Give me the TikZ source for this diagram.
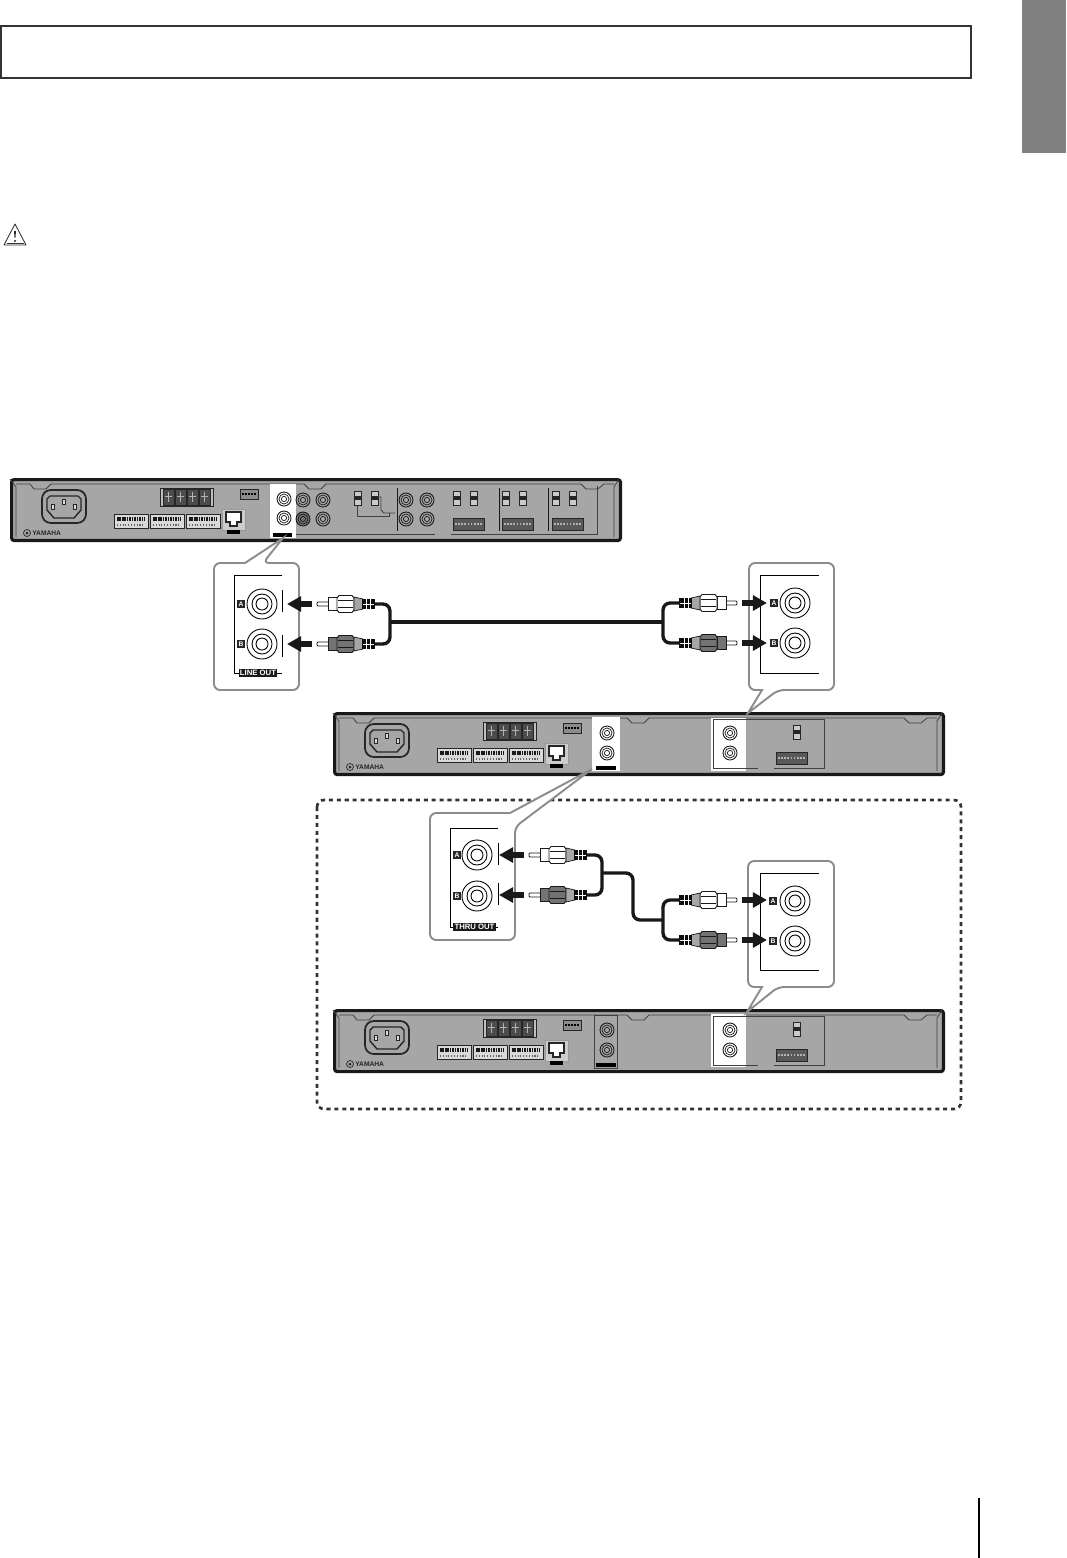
\documentclass[tikz,border=0pt]{standalone}
\usepackage{fontspec}
\setmainfont{Liberation Sans}
\usetikzlibrary{arrows.meta, positioning, calc}
\definecolor{panelgray}{HTML}{A6A6A6}
\definecolor{tabgray}{HTML}{808080}
\definecolor{calloutgray}{HTML}{8C8C8C}
\tikzset{
    ampbody/.style={
        rectangle, draw=black!90, fill=panelgray, line width=1.8pt, rounded corners=1.5pt,
        minimum width=12.18cm, minimum height=1.22cm, inner sep=0pt, anchor=north west
    },
    ampline/.style={draw=black!75, line width=0.45pt},
    partbox/.style={draw=black!85, line width=0.45pt},
    callout/.style={draw=calloutgray, fill=white, line width=1.1pt},
    frameline/.style={draw=black, line width=0.5pt},
    dashedbox/.style={
        draw=black!80, line width=1.5pt, rounded corners=4pt, dash pattern=on 2.3pt off 2.2pt
    },
    jackletter/.style={
        rectangle, fill=black!85, text=white, inner sep=0pt, minimum size=4.1pt,
        font=\fontsize{3.8}{4}\selectfont\bfseries
    },
    outlabel/.style={
        rectangle, fill=black!90, text=white, inner sep=0.7pt,
        font=\fontsize{4.4}{5}\selectfont\bfseries
    },
    bigarrow/.style={
        -{Triangle[length=8pt,width=8.4pt]}, line width=3.8pt, draw=black!90
    },
    cable/.style={draw=black!90, line width=1.9pt, rounded corners=4pt},
    whiteplug/.style={fill=white, draw=black!90, line width=0.5pt},
    darkplug/.style={fill=black!55, draw=black!90, line width=0.5pt}
}
\newcommand{\bigjack}[3]{%
    \node[circle, draw=black, line width=0.5pt, fill=white, minimum size=0.6cm, inner sep=0pt] (#1) at (#2,#3) {};
    \draw[frameline] (#1) circle (10);
    \draw[frameline] (#1) circle (6);
}
\newcommand{\smalljack}[3]{%
    \draw[black!90, line width=0.5pt, fill=#3] (#1,#2) circle (7);
    \draw[black!90, line width=0.4pt] (#1,#2) circle (5);
    \draw[black!90, line width=0.4pt] (#1,#2) circle (2.6);
}
\newcommand{\ampswitch}[2]{%
    \draw[partbox, line width=0.5pt, fill=white!40!panelgray] (#1,#2) rectangle ++(7,14);
    \fill[black!85] (#1,#2+5) rectangle ++(7,3.5);
}
\newcommand{\phoenix}[2]{%
    \draw[partbox, fill=black!65] (#1,#2) rectangle ++(31,12);
    \draw[white!70!black, line width=1.2pt, dash pattern=on 0.9pt off 0.9pt] (#1+2,#2+6) -- ++(27,0);
}
\newcommand{\ampbase}[3]{%
    \node[ampbody] (#1) at (#2,#3) {};
    \begin{scope}[shift={(#2,#3)}]
        \draw[ampline] (0,1) -- (6,9) -- (6,59);
        \draw[ampline] (6,6) -- (20,6) -- (24,11) -- (36,11) -- (41,6) -- (294,6) -- (299,11) -- (311,11) -- (316,6)
            -- (571,6) -- (576,11) -- (588,11) -- (594,6) -- (604,6);
        \draw[ampline] (609,1) -- (604,9) -- (604,59);
        \draw[partbox, line width=1pt, rounded corners=5pt] (32,12) rectangle (76,45);
        \draw[partbox, line width=0.8pt] (40,18) -- (68,18) -- (71,21) -- (71,32) -- (64,40) -- (44,40) -- (37,32) -- (37,21) -- cycle;
        \foreach \pinx/\piny in {43/29,54/24,65/29} {
            \draw[partbox, fill=black!15] (\pinx-1.5,\piny-2.5) rectangle ++(3,5);
        }
        \draw[partbox, fill=black!25] (150,10) rectangle (203,28);
        \foreach \cellx in {153,165,177,189} {
            \draw[partbox, fill=black!70] (\cellx,11) rectangle ++(11,16);
            \draw[black!30, line width=0.4pt] (\cellx+2,18) -- ++(7,0) (\cellx+5.5,14) -- ++(0,10);
        }
        \draw[partbox, fill=black!45] (230,11) rectangle (248,21);
        \draw[black, line width=1.2pt, dash pattern=on 1pt off 0.7pt] (232,16) -- (246,16);
        \foreach \conx in {104,140,176} {
            \draw[partbox, fill=black!15] (\conx,36) rectangle ++(34,14);
            \draw[black!90, line width=2.4pt, dash pattern=on 0.9pt off 0.5pt] (\conx+3,41) -- ++(28,0);
            \draw[black!60, line width=0.8pt, dash pattern=on 0.6pt off 1pt] (\conx+3,47) -- ++(28,0);
        }
        \draw[partbox, draw=black!40, fill=black!20] (212,31) rectangle (235,52);
        \draw[partbox, line width=0.7pt, fill=white] (216,34) -- (231,34) -- (231,44) -- (227,44) -- (227,48) -- (220,48) -- (220,44) -- (216,44) -- cycle;
        \fill[black] (217,52) rectangle (230,56);
        \draw[black!85, line width=0.4pt] (17,55) circle (3.5);
        \fill[black!85] (17,55) circle (1.5);
        \node[anchor=west, inner sep=0pt, text=black!85, font=\fontsize{3.8}{4}\selectfont\bfseries] (#1logo) at (22,55.5) {YAMAHA};
    \end{scope}
}
\newcommand{\rcaplug}[5]{%
    \begin{scope}[shift={(#2,#3)}, xscale=#4]
        \coordinate (#1tip) at (-30,0);
        \coordinate (#1tail) at (-5,0);
        \coordinate (#1end) at (58,0);
        \draw[whiteplug, rounded corners=0.6pt] (0,-2) rectangle (12,2);
        \draw[#5] (11,-6.5) rectangle (20,6.5);
        \draw[#5] (20,-6) -- (22,-8.5) -- (35,-8.5) -- (37,-6) -- (37,6) -- (35,8.5) -- (22,8.5) -- (20,6) -- cycle;
        \draw[black!90, line width=0.3pt] (21,-3.5) -- (36,-3.5) (21,3.5) -- (36,3.5);
        \draw[draw=black!90, fill=black!35, line width=0.4pt] (37,-7) -- (46,-5) -- (46,5) -- (37,7) -- cycle;
        \fill[black!95] (45,-4.8) rectangle (58,4.8);
        \draw[white, line width=0.4pt] (49,-4.8) -- (49,4.8) (53,-4.8) -- (53,4.8) (46,0) -- (57,0);
    \end{scope}
}
\begin{document}
\begin{tikzpicture}[x=0.02cm, y=-0.02cm]

    \useasboundingbox (0,0) rectangle (1066,1558);

    \fill[tabgray] (1022,0) rectangle (1066,153);
    \draw[black!80, line width=1.2pt] (1,26) rectangle (971,78);
    \draw[black, line width=1.6pt] (979,1498) -- (979,1558);

    \draw[black!80, line width=0.5pt, line join=round] (15,224) -- (26,245) -- (4,245) -- cycle;
    \draw[black!80, line width=0.3pt] (6.5,243) -- (23.5,243);
    \fill[black!85] (14,231) -- (16,231) -- (15.4,238) -- (14.6,238) -- cycle;
    \fill[black!85] (15,241) circle (1.1);

    \draw[dashedbox] (317,800) rectangle (961,1109);

    \ampbase{ampone}{10}{478}
    \fill[white] (270,484) rectangle (296,538);
    \fill[black] (273,533) rectangle (292,537);
    \smalljack{284}{499}{white}
    \smalljack{284}{518}{white}
    \smalljack{303}{500}{panelgray}
    \smalljack{323}{500}{panelgray}
    \smalljack{303}{519}{black!55}
    \smalljack{323}{519}{panelgray}
    \smalljack{406}{500}{panelgray}
    \smalljack{427}{500}{panelgray}
    \smalljack{406}{519}{panelgray}
    \smalljack{427}{519}{panelgray}
    \draw[ampline] (296,534) -- (435,534) (451,534) -- (597,534) -- (597,486);
    \draw[black!90, line width=0.5pt] (397,488) -- (397,531) (499,488) -- (499,531) (548,488) -- (548,531);
    \foreach \swx in {354,371,453,470,502,519,552,569} {
        \ampswitch{\swx}{491}
    }
    \draw[ampline] (357,505) -- (357,516) -- (389,516) -- (389,513);
    \draw[ampline] (377,497) -- (381,497) -- (381,510) -- (384,513) -- (395,513);
    \foreach \conx in {453,502,552} {
        \phoenix{\conx}{518}
    }

    \ampbase{amptwo}{333}{712}
    \fill[white] (592,717) rectangle (620,771);
    \fill[black] (596,766) rectangle (616,770);
    \smalljack{607}{733}{white}
    \smalljack{607}{753}{white}
    \fill[white] (711,718) rectangle (746,771);
    \draw[ampline] (758,768) -- (713,768) -- (713,719) -- (824,719) -- (824,768) -- (774,768);
    \smalljack{730}{733}{white}
    \smalljack{730}{753}{white}
    \ampswitch{793}{725}
    \phoenix{776}{752}

    \ampbase{ampthree}{333}{1009}
    \draw[ampline] (594,1015) rectangle (617,1068);
    \fill[black] (596,1063) rectangle (616,1067);
    \smalljack{607}{1030}{panelgray}
    \smalljack{607}{1050}{panelgray}
    \fill[white] (711,1014) rectangle (746,1067);
    \draw[ampline] (758,1065) -- (713,1065) -- (713,1016) -- (824,1016) -- (824,1065) -- (774,1065);
    \smalljack{730}{1030}{white}
    \smalljack{730}{1050}{white}
    \ampswitch{793}{1022}
    \phoenix{776}{1049}

    \draw[callout] (245,563) [rounded corners=3.5pt] -- (214,563) -- (214,690) -- (299,690) -- (299,563) -- (263,563)
        [sharp corners] -- (283,538) -- cycle;
    \draw[frameline] (282,575) -- (234,575) -- (234,673) -- (282,673);
    \draw[frameline] (282,590) -- (282,612) (282,635) -- (282,657);
    \bigjack{lineouta}{262}{604}
    \bigjack{lineoutb}{262}{644}
    \node[jackletter] (lettera) at (241,604) {A};
    \node[jackletter] (letterb) at (241,644) {B};
    \node[outlabel] (lineout) at (258,673) {LINE OUT};

    \draw[callout] (762,690) [rounded corners=3.5pt] -- (749,690) -- (749,563) -- (834,563) -- (834,690) -- (778,690)
        [sharp corners] -- (748,713) -- cycle;
    \draw[frameline] (819,575) -- (760,575) -- (760,673) -- (819,673);
    \bigjack{inputa}{795}{603}
    \bigjack{inputb}{795}{643}
    \node[jackletter] (inlettera) at (774,603) {A};
    \node[jackletter] (inletterb) at (774,643) {B};

    \draw[callout] (510,813) [rounded corners=3.5pt] -- (430,813) -- (430,940) -- (515,940) -- (515,827)
        [sharp corners] -- (592,769) -- cycle;
    \draw[frameline] (498,828) -- (450,828) -- (450,927) -- (498,927);
    \draw[frameline] (498,843) -- (498,865) (498,883) -- (498,905);
    \bigjack{thruouta}{477}{855}
    \bigjack{thruoutb}{477}{896}
    \node[jackletter] (thrulettera) at (457,855) {A};
    \node[jackletter] (thruletterb) at (457,896) {B};
    \node[outlabel] (thruout) at (474.5,927) {THRU OUT};

    \draw[callout] (762,987) [rounded corners=3.5pt] -- (748,987) -- (748,861) -- (834,861) -- (834,987) -- (778,987)
        [sharp corners] -- (747,1012) -- cycle;
    \draw[frameline] (819,873) -- (760,873) -- (760,970) -- (819,970);
    \bigjack{nextina}{795}{901}
    \bigjack{nextinb}{795}{941}
    \node[jackletter] (nextlettera) at (773,901) {A};
    \node[jackletter] (nextletterb) at (773,941) {B};

    \rcaplug{pa}{317}{604}{1}{whiteplug}
    \rcaplug{pb}{317}{644}{1}{darkplug}
    \rcaplug{qa}{737}{603}{-1}{whiteplug}
    \rcaplug{qb}{737}{643}{-1}{darkplug}
    \rcaplug{ra}{529}{855}{1}{whiteplug}
    \rcaplug{rb}{529}{895}{1}{darkplug}
    \rcaplug{sa}{737}{900}{-1}{whiteplug}
    \rcaplug{sb}{737}{940}{-1}{darkplug}

    \foreach \plugname in {pa,pb,qa,qb,ra,rb,sa,sb} {
        \draw[bigarrow] (\plugname tail) -- (\plugname tip);
    }

    \coordinate (firstleft) at (390,622);
    \coordinate (firstright) at (663,622);
    \coordinate (secondleft) at (602,873);
    \coordinate (secondright) at (663,920);
    \draw[cable] (paend) -| (firstleft) (pbend) -| (firstleft);
    \draw[cable] (qaend) -| (firstright) (qbend) -| (firstright);
    \draw[cable] (firstleft) -- (firstright);
    \draw[cable] (raend) -| (secondleft) (rbend) -| (secondleft);
    \draw[cable] (saend) -| (secondright) (sbend) -| (secondright);
    \draw[cable] (secondleft) -- (633,873) -- (633,920) -- (secondright);

\end{tikzpicture}
\end{document}
